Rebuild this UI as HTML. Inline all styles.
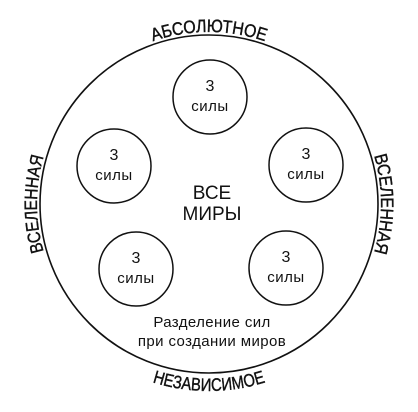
<!DOCTYPE html>
<html><head><meta charset="utf-8"><style>
html,body{margin:0;padding:0;background:#fff;}
svg{display:block;font-family:"Liberation Sans","DejaVu Sans",sans-serif;}
</style></head><body>
<svg id="d" width="418" height="412" viewBox="0 0 418 412">
<defs id="defs"></defs>
<circle cx="209" cy="204" r="169" fill="none" stroke="#111" stroke-width="1.6"/>
<g id="labels"></g>
<g id="small"></g>
<text x="212" y="199" font-size="19" text-anchor="middle" fill="#111">ВСЕ</text>
<text x="212" y="220" font-size="19" text-anchor="middle" fill="#111">МИРЫ</text>
<text x="212" y="327" font-size="15" text-anchor="middle" fill="#111" letter-spacing="0.4">Разделение сил</text>
<text x="212" y="346" font-size="15" text-anchor="middle" fill="#111" letter-spacing="0.4">при создании миров</text>
</svg>
<script>
const NS="http://www.w3.org/2000/svg";
const cx=209, cy=204;
const smallCenters=[[210,97],[114,166],[306,165],[136,269],[286,268]];
const arcLabels=["АБСОЛЮТНОЕ","ВСЕЛЕННАЯ","ВСЕЛЕННАЯ","НЕЗАВИСИМОЕ"];
const arcNames=["top-label","right-label","left-label","bottom-label"];
const arcDefs=[[172,-60,60,1,114],[172,30,150,1,98],[172,210,330,1,96],[187,240,120,0,115]];
function p(r,a){const t=a*Math.PI/180;return [cx+r*Math.sin(t), cy-r*Math.cos(t)];}
const defs=document.getElementById('defs'), lg=document.getElementById('labels');
arcDefs.forEach((d,i)=>{
  const [r,a0,a1,sw,len]=d;const s=p(r,a0),e=p(r,a1);
  const path=document.createElementNS(NS,'path');
  path.setAttribute('id','arc'+i);
  path.setAttribute('d',`M${s[0]},${s[1]} A${r},${r} 0 0 ${sw} ${e[0]},${e[1]}`);
  path.setAttribute('fill','none');
  defs.appendChild(path);
  const t=document.createElementNS(NS,'text');
  
  
  t.setAttribute('font-size','18');t.setAttribute('fill','#111');
  t.setAttribute('stroke','#111');t.setAttribute('stroke-width','0.4');
  const tp=document.createElementNS(NS,'textPath');
  tp.setAttribute('href','#arc'+i);tp.setAttribute('startOffset','50%');tp.setAttribute('text-anchor','middle');
  tp.setAttribute('textLength',len);tp.setAttribute('lengthAdjust','spacingAndGlyphs');
  tp.textContent=arcLabels[i];
  t.appendChild(tp);lg.appendChild(t);
});
const sg=document.getElementById('small');
smallCenters.forEach((c,i)=>{
  const g=document.createElementNS(NS,'g');
  
  
  const ci=document.createElementNS(NS,'circle');
  ci.setAttribute('cx',c[0]);ci.setAttribute('cy',c[1]);ci.setAttribute('r',37);
  ci.setAttribute('fill','none');ci.setAttribute('stroke','#111');ci.setAttribute('stroke-width','1.5');
  g.appendChild(ci);
  const t1=document.createElementNS(NS,'text');
  t1.setAttribute('x',c[0]);t1.setAttribute('y',c[1]-6);t1.setAttribute('font-size','16');t1.setAttribute('text-anchor','middle');t1.setAttribute('fill','#111');
  t1.textContent='3';g.appendChild(t1);
  const t2=document.createElementNS(NS,'text');
  t2.setAttribute('x',c[0]);t2.setAttribute('y',c[1]+14);t2.setAttribute('font-size','15');t2.setAttribute('text-anchor','middle');t2.setAttribute('fill','#111');t2.setAttribute('letter-spacing','0.5');
  t2.textContent='силы';g.appendChild(t2);
  sg.appendChild(g);
});
</script>
</body></html>
